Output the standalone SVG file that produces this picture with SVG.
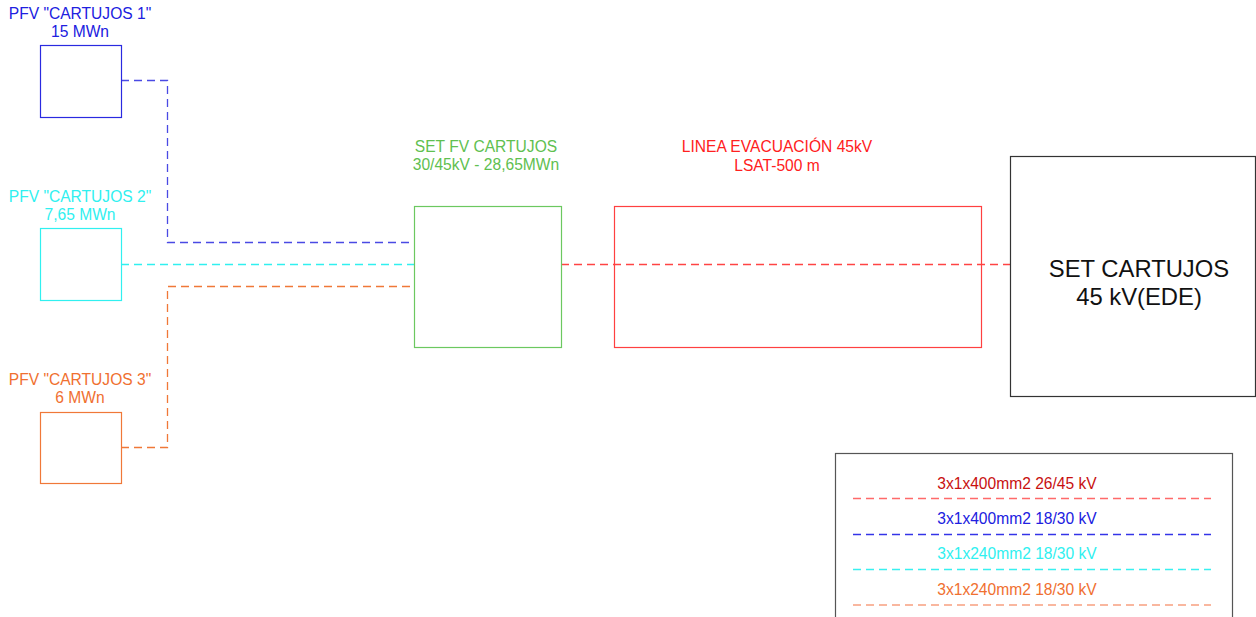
<svg xmlns="http://www.w3.org/2000/svg" width="1256" height="617" viewBox="0 0 1256 617">
<style>
text{font-family:"Liberation Sans",Arial,sans-serif;font-size:15.6px;text-anchor:middle}
.box{fill:none;stroke-width:1.2}
.dash{fill:none;stroke-width:1.3;stroke-dasharray:8 5}
.big{font-size:23.8px;fill:#111}
</style>
<rect width="1256" height="617" fill="#fff"/>
<g id="connectors">
<polyline class="dash" stroke="#4a4ae4" points="121,80.5 167.5,80.5 167.5,242.5 414,242.5"/>
<polyline class="dash" stroke="#30f0f0" points="121,264.5 414,264.5"/>
<polyline class="dash" stroke="#f07838" points="121,447.5 167.5,447.5 167.5,286.5 414,286.5"/>
<polyline class="dash" stroke="#ff4444" points="561,264.5 1010,264.5"/>
</g>
<g id="pfv1">
<rect class="box" stroke="#2a2ae0" x="40.5" y="45.5" width="81" height="72"/>
<text x="80" y="19" fill="#2020e0">PFV "CARTUJOS 1"</text>
<text x="80" y="37" fill="#2020e0">15 MWn</text>
</g>
<g id="pfv2">
<rect class="box" stroke="#30f0f0" x="40.5" y="228.5" width="81" height="72"/>
<text x="80" y="202" fill="#30f0f0">PFV "CARTUJOS 2"</text>
<text x="80" y="220" fill="#30f0f0">7,65 MWn</text>
</g>
<g id="pfv3">
<rect class="box" stroke="#f07838" x="40.5" y="412.5" width="81" height="71"/>
<text x="80" y="385" fill="#f07030">PFV "CARTUJOS 3"</text>
<text x="80" y="403" fill="#f07030">6 MWn</text>
</g>
<g id="setfv">
<rect class="box" stroke="#6cc860" x="414.5" y="206.5" width="147" height="141"/>
<text x="486" y="152" fill="#60c050">SET FV CARTUJOS</text>
<text x="486" y="170" fill="#60c050">30/45kV - 28,65MWn</text>
</g>
<g id="linea">
<rect class="box" stroke="#ff4040" x="614.5" y="206.5" width="367" height="141"/>
<text x="777" y="152" fill="#ff2020">LINEA EVACUACIÓN 45kV</text>
<text x="777" y="171" fill="#ff2020">LSAT-500 m</text>
</g>
<g id="setcartujos">
<rect class="box" stroke="#333" x="1010.5" y="156.5" width="245" height="240"/>
<text class="big" x="1139" y="277">SET CARTUJOS</text>
<text class="big" x="1139" y="305">45 kV(EDE)</text>
</g>
<g id="legend">
<rect class="box" stroke="#555" x="835.5" y="453.5" width="397" height="180"/>
<text x="1017" y="489" fill="#c81010">3x1x400mm2 26/45 kV</text>
<line class="dash" stroke="#ff6a6a" x1="853" y1="498.5" x2="1211" y2="498.5"/>
<text x="1017" y="524" fill="#2020e0">3x1x400mm2 18/30 kV</text>
<line class="dash" stroke="#3434e8" x1="853" y1="534.5" x2="1211" y2="534.5"/>
<text x="1017" y="559" fill="#30f0f0">3x1x240mm2 18/30 kV</text>
<line class="dash" stroke="#38f0f0" x1="853" y1="569.5" x2="1211" y2="569.5"/>
<text x="1017" y="595" fill="#f07030">3x1x240mm2 18/30 kV</text>
<line class="dash" stroke="#f8a080" stroke-width="1.8" x1="853" y1="605" x2="1211" y2="605"/>
</g>
</svg>
